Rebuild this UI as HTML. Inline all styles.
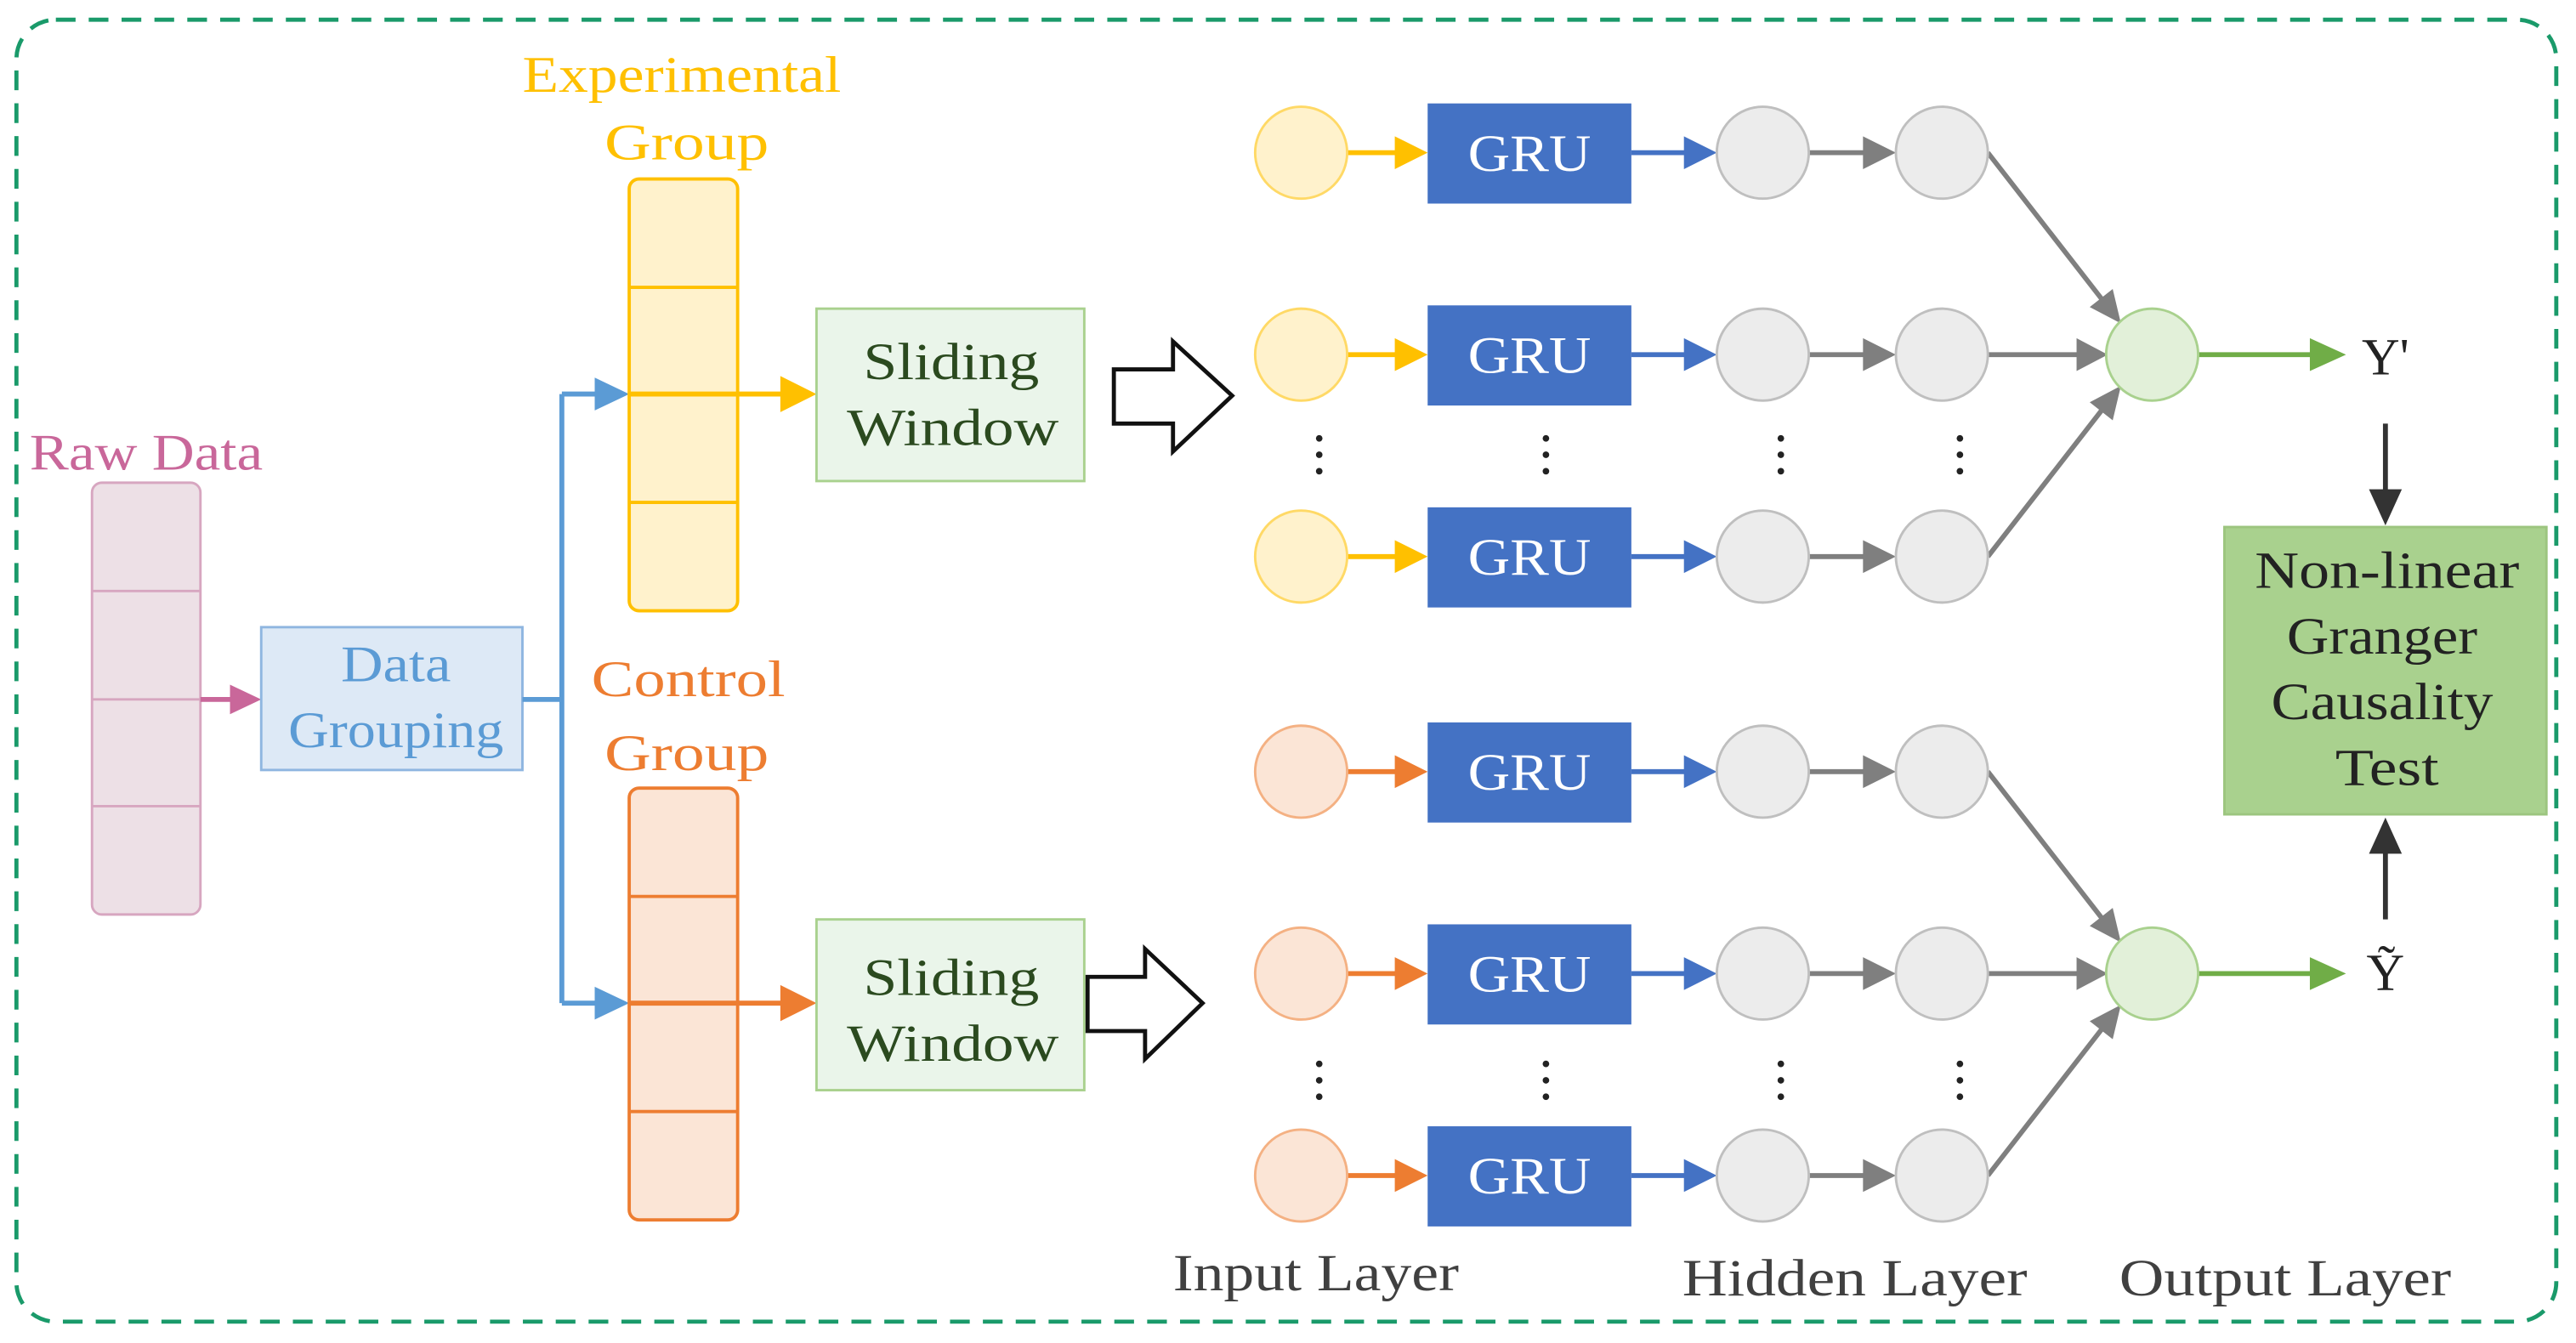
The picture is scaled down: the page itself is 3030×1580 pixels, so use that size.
<!DOCTYPE html>
<html><head><meta charset="utf-8"><style>html,body{margin:0;padding:0;background:#fff}svg{display:block}text{font-family:"Liberation Serif",serif}</style></head><body>
<svg width="3030" height="1580" viewBox="0 0 1568 818" preserveAspectRatio="none" xmlns="http://www.w3.org/2000/svg">
<rect x="10" y="12" width="1546" height="793" rx="24" fill="none" stroke="#1a9a6a" stroke-width="2.5" stroke-dasharray="12,8"/>
<!-- Raw data -->
<text x="89" y="286" font-size="31" fill="#c9679a" text-anchor="middle" textLength="142" lengthAdjust="spacingAndGlyphs">Raw Data</text>
<rect x="56" y="294" width="66" height="263" rx="6" fill="#ede0e6" stroke="#d7a6c0" stroke-width="1.5"/>
<path d="M56 360H122M56 426H122M56 491H122" stroke="#d7a6c0" stroke-width="1.5"/>
<path d="M122 426H142" stroke="#c9679a" stroke-width="3"/><path d="M140 417L159 426L140 435z" fill="#c9679a"/>
<!-- Data grouping -->
<rect x="159" y="382" width="159" height="87" fill="#dde9f6" stroke="#8fb6e0" stroke-width="1.5"/>
<text x="241" y="415" font-size="31" fill="#5b9bd5" text-anchor="middle" textLength="67" lengthAdjust="spacingAndGlyphs">Data</text>
<text x="241" y="455" font-size="31" fill="#5b9bd5" text-anchor="middle" textLength="131" lengthAdjust="spacingAndGlyphs">Grouping</text>
<path d="M318 426H342M342 240V611M342 240H365M342 611H365" stroke="#5b9bd5" stroke-width="3" fill="none"/>
<path d="M362 230L383 240L362 250z M362 601L383 611L362 621z" fill="#5b9bd5"/>
<!-- Experimental -->
<text x="415" y="56" font-size="31" fill="#ffc000" text-anchor="middle" textLength="194" lengthAdjust="spacingAndGlyphs">Experimental</text>
<text x="418" y="97" font-size="31" fill="#ffc000" text-anchor="middle" textLength="100" lengthAdjust="spacingAndGlyphs">Group</text>
<rect x="383" y="109" width="66" height="263" rx="6" fill="#fff2cc" stroke="#ffc000" stroke-width="2"/>
<path d="M383 175H449M383 306H449" stroke="#ffc000" stroke-width="2"/>
<path d="M383 240H478" stroke="#ffc000" stroke-width="3"/><path d="M475 229L497 240L475 251z" fill="#ffc000"/>
<rect x="497" y="188" width="163" height="105" fill="#eaf5ea" stroke="#a9d18e" stroke-width="1.5"/>
<text x="579" y="231" font-size="32" fill="#2b4a1f" text-anchor="middle" textLength="107" lengthAdjust="spacingAndGlyphs">Sliding</text>
<text x="580" y="271" font-size="32" fill="#2b4a1f" text-anchor="middle" textLength="129" lengthAdjust="spacingAndGlyphs">Window</text>
<path d="M678 225H714V208L750 241L714 275V258H678z" fill="#fff" stroke="#111" stroke-width="2.5"/>
<!-- Control -->
<text x="419" y="424" font-size="31" fill="#ed7d31" text-anchor="middle" textLength="118" lengthAdjust="spacingAndGlyphs">Control</text>
<text x="418" y="469" font-size="31" fill="#ed7d31" text-anchor="middle" textLength="100" lengthAdjust="spacingAndGlyphs">Group</text>
<rect x="383" y="480" width="66" height="263" rx="6" fill="#fbe5d6" stroke="#ed7d31" stroke-width="2"/>
<path d="M383 546H449M383 677H449" stroke="#ed7d31" stroke-width="2"/>
<path d="M383 611H478" stroke="#ed7d31" stroke-width="3"/><path d="M475 600L497 611L475 622z" fill="#ed7d31"/>
<rect x="497" y="560" width="163" height="104" fill="#eaf5ea" stroke="#a9d18e" stroke-width="1.5"/>
<text x="579" y="606" font-size="32" fill="#2b4a1f" text-anchor="middle" textLength="107" lengthAdjust="spacingAndGlyphs">Sliding</text>
<text x="580" y="646" font-size="32" fill="#2b4a1f" text-anchor="middle" textLength="129" lengthAdjust="spacingAndGlyphs">Window</text>
<path d="M662 595H697V578L732 611L697 645V628H662z" fill="#fff" stroke="#111" stroke-width="2.5"/>
<g stroke-width="3" fill="none">
<path d="M820 93H850M820 216H850M820 339H850" stroke="#ffc000"/>
<path d="M820 470H850M820 593H850M820 716H850" stroke="#ed7d31"/>
<path d="M993 93H1026M993 216H1026M993 339H1026M993 470H1026M993 593H1026M993 716H1026" stroke="#4472c4"/>
<path d="M1101 93H1136M1101 216H1136M1101 339H1136M1101 470H1136M1101 593H1136M1101 716H1136" stroke="#7f7f7f"/>
<path d="M1210 93L1280 183M1210 216H1265M1210 339L1280 249M1210 470L1280 560M1210 593H1265M1210 716L1280 626" stroke="#7f7f7f"/>
<path d="M1338 216H1408M1338 593H1408" stroke="#70ad47"/>
<path d="M1452 258V300M1452 560V518" stroke="#333"/>
</g>
<g fill="#ffc000"><path d="M849 83L869 93L849 103zM849 206L869 216L849 226zM849 329L869 339L849 349z"/></g>
<g fill="#ed7d31"><path d="M849 460L869 470L849 480zM849 583L869 593L849 603zM849 706L869 716L849 726z"/></g>
<g fill="#4472c4"><path d="M1025 83L1045 93L1025 103zM1025 206L1045 216L1025 226zM1025 329L1045 339L1025 349zM1025 460L1045 470L1025 480zM1025 583L1045 593L1025 603zM1025 706L1045 716L1025 726z"/></g>
<g fill="#7f7f7f"><path d="M1134 83L1154 93L1134 103zM1134 206L1154 216L1134 226zM1134 329L1154 339L1134 349zM1134 460L1154 470L1134 480zM1134 583L1154 593L1134 603zM1134 706L1154 716L1134 726z"/>
<path d="M1264 206L1283 216L1264 226zM1264 583L1283 593L1264 603z"/>
<path d="M1272 187L1291 197L1286 176zM1272 245L1291 235L1286 256zM1272 564L1291 574L1286 553zM1272 622L1291 612L1286 633z"/></g>
<g fill="#70ad47"><path d="M1406 206L1428 216L1406 226zM1406 583L1428 593L1406 603z"/></g>
<g fill="#333"><path d="M1442 298L1452 320L1462 298zM1442 520L1452 498L1462 520z"/></g>
<g fill="#fff2cc" stroke="#ffd966" stroke-width="1.5"><circle cx="792" cy="93" r="28"/><circle cx="792" cy="216" r="28"/><circle cx="792" cy="339" r="28"/></g>
<g fill="#fbe5d6" stroke="#f4b183" stroke-width="1.5"><circle cx="792" cy="470" r="28"/><circle cx="792" cy="593" r="28"/><circle cx="792" cy="716" r="28"/></g>
<g fill="#ececec" stroke="#bfbfbf" stroke-width="1.5">
<circle cx="1073" cy="93" r="28"/><circle cx="1073" cy="216" r="28"/><circle cx="1073" cy="339" r="28"/><circle cx="1073" cy="470" r="28"/><circle cx="1073" cy="593" r="28"/><circle cx="1073" cy="716" r="28"/>
<circle cx="1182" cy="93" r="28"/><circle cx="1182" cy="216" r="28"/><circle cx="1182" cy="339" r="28"/><circle cx="1182" cy="470" r="28"/><circle cx="1182" cy="593" r="28"/><circle cx="1182" cy="716" r="28"/></g>
<g fill="#e2f0d9" stroke="#a9d18e" stroke-width="1.5"><circle cx="1310" cy="216" r="28"/><circle cx="1310" cy="593" r="28"/></g>
<g fill="#4472c4"><rect x="869" y="63" width="124" height="61"/><rect x="869" y="186" width="124" height="61"/><rect x="869" y="309" width="124" height="61"/><rect x="869" y="440" width="124" height="61"/><rect x="869" y="563" width="124" height="61"/><rect x="869" y="686" width="124" height="61"/></g>
<g fill="#fff" font-size="32" text-anchor="middle">
<text x="931" y="104" textLength="75" lengthAdjust="spacingAndGlyphs">GRU</text><text x="931" y="227" textLength="75" lengthAdjust="spacingAndGlyphs">GRU</text><text x="931" y="350" textLength="75" lengthAdjust="spacingAndGlyphs">GRU</text>
<text x="931" y="481" textLength="75" lengthAdjust="spacingAndGlyphs">GRU</text><text x="931" y="604" textLength="75" lengthAdjust="spacingAndGlyphs">GRU</text><text x="931" y="727" textLength="75" lengthAdjust="spacingAndGlyphs">GRU</text></g>
<g fill="#222"><circle cx="803" cy="267" r="2"/><circle cx="803" cy="277" r="2"/><circle cx="803" cy="287" r="2"/><circle cx="941" cy="267" r="2"/><circle cx="941" cy="277" r="2"/><circle cx="941" cy="287" r="2"/><circle cx="1084" cy="267" r="2"/><circle cx="1084" cy="277" r="2"/><circle cx="1084" cy="287" r="2"/><circle cx="1193" cy="267" r="2"/><circle cx="1193" cy="277" r="2"/><circle cx="1193" cy="287" r="2"/>
<circle cx="803" cy="648" r="2"/><circle cx="803" cy="658" r="2"/><circle cx="803" cy="668" r="2"/><circle cx="941" cy="648" r="2"/><circle cx="941" cy="658" r="2"/><circle cx="941" cy="668" r="2"/><circle cx="1084" cy="648" r="2"/><circle cx="1084" cy="658" r="2"/><circle cx="1084" cy="668" r="2"/><circle cx="1193" cy="648" r="2"/><circle cx="1193" cy="658" r="2"/><circle cx="1193" cy="668" r="2"/></g>
<text x="1452" y="228" font-size="32" fill="#222" text-anchor="middle">Y'</text>
<text x="1452" y="603" font-size="32" fill="#222" text-anchor="middle">Ỹ</text>
<rect x="1354" y="321" width="196" height="175" fill="#a9d18e" stroke="#9cc57f" stroke-width="1.5"/>
<g font-size="32" fill="#222" text-anchor="middle"><text x="1453" y="358" textLength="161" lengthAdjust="spacingAndGlyphs">Non-linear</text><text x="1450" y="398" textLength="116" lengthAdjust="spacingAndGlyphs">Granger</text><text x="1450" y="438" textLength="135" lengthAdjust="spacingAndGlyphs">Causality</text><text x="1453" y="478" textLength="63" lengthAdjust="spacingAndGlyphs">Test</text></g>
<g font-size="32" fill="#404040" text-anchor="middle"><text x="801" y="786" textLength="174" lengthAdjust="spacingAndGlyphs">Input Layer</text><text x="1129" y="789" textLength="210" lengthAdjust="spacingAndGlyphs">Hidden Layer</text><text x="1391" y="789" textLength="202" lengthAdjust="spacingAndGlyphs">Output Layer</text></g>
</svg>
</body></html>
